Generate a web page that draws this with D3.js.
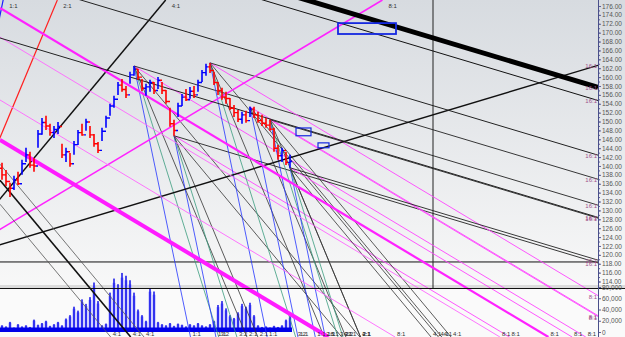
<!DOCTYPE html>
<html>
<head>
<meta charset="utf-8">
<script src="https://cdn.jsdelivr.net/npm/d3@7"></script>
<style>
body{margin:0;background:#fff}
svg{display:block;font-family:"Liberation Sans",Arial,sans-serif}
</style>
</head>
<body>
<div id="chart"></div>
<script>
// daily bars (price)
const highs = [140.7,139.1,136.2,137.8,138.7,141.4,144.1,143.2,141.8,148.1,
 150.8,151.3,149.5,149.0,149.9,145.0,144.1,142.9,145.6,148.1,
 149.5,150.6,149.0,147.2,145.4,148.6,151.3,154.0,155.8,158.9,
 159.6,158.0,161.2,162.5,161.8,159.6,158.5,159.4,158.9,160.0,
 158.9,157.1,153.1,150.4,154.2,156.2,157.3,157.8,158.0,159.4,
 161.6,163.0,163.2,161.2,158.9,157.6,156.7,155.3,153.7,152.6,
 152.2,152.4,153.3,153.3,152.2,151.5,150.8,150.4,148.6,144.7,
 144.1,143.2,142.5];
const lows = [136.9,135.5,133.0,134.6,135.7,138.0,140.9,139.6,138.7,144.1,
 147.0,148.1,146.8,146.3,147.2,141.8,140.9,139.8,142.5,144.7,
 146.8,147.9,146.3,144.3,142.9,145.6,148.6,151.3,153.1,156.0,
 156.7,155.3,158.5,160.3,159.4,156.9,155.8,156.7,156.2,157.3,
 156.2,154.0,148.8,146.8,151.0,153.5,154.6,155.1,155.3,156.7,
 158.9,160.3,160.9,158.2,156.0,154.9,154.0,152.6,151.0,149.9,
 149.5,149.7,151.0,150.8,149.7,149.0,148.6,147.9,143.2,141.4,
 140.9,140.2,139.6];
const closes = [138.0,136.5,135.0,136.9,136.0,140.5,142.5,140.2,140.0,147.2,
 149.8,149.0,147.5,148.2,148.9,142.5,143.2,140.5,144.8,147.5,
 147.0,149.9,147.0,145.0,143.5,147.8,150.8,153.5,155.0,158.2,
 157.2,156.0,160.5,161.8,160.0,157.5,157.8,158.8,157.0,159.3,
 157.0,154.5,149.5,148.0,153.5,155.5,154.9,156.8,156.0,158.8,
 161.0,162.3,161.5,158.8,157.0,155.5,155.2,153.0,152.0,150.5,
 151.5,150.2,152.8,151.5,150.2,149.6,149.2,148.3,144.0,142.3,
 143.5,140.8,141.0];
const firstOpen = 139.5;
// volume, thousands
const volumes = [12,10,18,8,14,10,12,9,22,13,
 16,20,11,14,18,12,24,30,45,38,
 58,50,62,88,55,12,15,70,95,85,
 105,100,92,70,40,30,20,78,72,18,
 14,12,16,11,15,13,10,14,12,16,
 12,10,14,20,48,55,42,30,25,35,
 50,45,52,30,12,9,10,8,11,9,
 12,22,28];

// gann fan settings
const unitSlope = 4.32; // price per bar for 1:1
const ratioNames = ["1:1","3:2","2:1","4:1","8:1","16:1"];
const ratioFactor = [1, 2/3, 1/2, 1/4, 1/8, 1/16];

// down fans from pivots
const fanBars = [33.5, 43.5, 52.5, 62.5, 67.5, 72.5];
const fanPrices = [162.5, 146.8, 163.2, 153.3, 150.4, 139.6];
const fanRatios = [
  ["1:1","3:2","2:1","4:1","8:1","16:1"],
  ["1:1","3:2","2:1","4:1","8:1","16:1"],
  ["1:1","3:2","2:1","4:1","8:1","16:1"],
  ["1:1","2:1","4:1","8:1"],
  ["1:1","3:2","2:1","4:1","8:1","16:1"],
  ["1:1","3:2","2:1","4:1","8:1","16:1"]
];

// up fan from low at the left
const upBar = -12.75, upPrice = 118.84;
const upRatios = ["1:1","2:1","4:1","8:1","16:1"];

// single down lines (anchored at bar 0)
const extraRatio = ["4:1","4:1","4:1","8:1","8:1","8:1","8:1","16:1","16:1","16:1","16:1"];
const extraPrice = [131.4,136.8,140.4,145.85,175.55,169.0,154.85,198.05,195.1,182.8,168.8];

// markers
const hLinePrice = 118.4;
const vLineBar = 108.25;
const boxBar0 = [84.5, 74, 79.5];
const boxBar1 = [99, 77.75, 82.25];
const boxTop = [172.15, 148.55, 145.2];
const boxBottom = [169.7, 146.8, 144.1];

const priceTicks = d3.range(114, 177, 2);
const volTicks = [0, 20, 40, 60, 80];

const W = 625, H = 337, plotRight = 598, priceBottom = 288;

const x = d3.scaleLinear().domain([0, 150]).range([0, 600]);
const y = d3.scaleLinear().domain([112, 176]).range([290.4, 6]);
const vy = d3.scaleLinear().domain([0, 80]).range([332, 287]);

const svg = d3.select("#chart").append("svg").attr("width", W).attr("height", H);
const defs = svg.append("defs");
const grad = defs.append("linearGradient").attr("id", "bg")
  .attr("x1", 0).attr("y1", 0).attr("x2", 0).attr("y2", 1);
grad.append("stop").attr("offset", "0%").attr("stop-color", "#d7dbe0");
grad.append("stop").attr("offset", "100%").attr("stop-color", "#f8f8f8");
defs.append("clipPath").attr("id", "clip").append("rect")
  .attr("x", 0).attr("y", 0).attr("width", plotRight).attr("height", H);

svg.append("rect").attr("width", W).attr("height", priceBottom).attr("fill", "url(#bg)");
svg.append("rect").attr("y", priceBottom).attr("width", W).attr("height", H - priceBottom).attr("fill", "#fafafa");
svg.append("rect").attr("y", priceBottom - 3).attr("width", W).attr("height", 3).attr("fill", "#dcdcdc");

const plot = svg.append("g").attr("clip-path", "url(#clip)");

// volume
const volG = plot.append("g");
volumes.forEach((v, i) => {
  const cx = x(i + 0.5);
  volG.append("rect").attr("x", cx - 1.5).attr("width", 3)
    .attr("y", vy(v * 0.92)).attr("height", vy(0) - vy(v * 0.92)).attr("fill", "#a8a8ff");
  volG.append("rect").attr("x", cx - 0.7).attr("width", 1.4)
    .attr("y", vy(v)).attr("height", vy(0) - vy(v)).attr("fill", "#0000e8");
});
volG.append("rect").attr("x", 0).attr("width", x(volumes.length))
  .attr("y", vy(8)).attr("height", vy(0) - vy(8)).attr("fill", "#0000e8");

// reference lines
plot.append("line").attr("x1", 0).attr("x2", plotRight)
  .attr("y1", y(hLinePrice)).attr("y2", y(hLinePrice)).attr("stroke", "#111").attr("stroke-width", 1);
plot.append("line").attr("x1", x(vLineBar)).attr("x2", x(vLineBar))
  .attr("y1", 0).attr("y2", priceBottom).attr("stroke", "#222").attr("stroke-width", 1);

const bRight = x.invert(plotRight), pBottom = y.invert(H), pTop = y.invert(0);
function ray(b0, p0, slope) {
  let b1 = bRight, p1 = p0 + slope * (b1 - b0), side = "right";
  if (p1 < pBottom) { b1 = b0 + (pBottom - p0) / slope; p1 = pBottom; side = "bottom"; }
  else if (p1 > pTop) { b1 = b0 + (pTop - p0) / slope; p1 = pTop; side = "top"; }
  return {b0, p0, b1, p1, side};
}

const rays = [];
const downStyle = {"1:1": ["#2233ff", 0.8], "3:2": ["#3a9c7e", 0.8], "2:1": ["#333", 0.8],
  "4:1": ["#333", 0.8], "8:1": ["#ff44ff", 0.9], "16:1": ["#222", 0.9]};
fanBars.forEach((b, i) => {
  fanRatios[i].forEach(r => {
    const f = ratioFactor[ratioNames.indexOf(r)];
    const s = downStyle[r];
    rays.push(Object.assign(ray(b, fanPrices[i], -unitSlope * f), {label: r, color: s[0], width: s[1]}));
  });
});
const upStyle = {"1:1": ["#1a1aff", 1.2], "2:1": ["#ff2020", 1.2], "4:1": ["#111", 1.5],
  "8:1": ["#ff22ff", 1.6], "16:1": ["#111", 1.4]};
upRatios.forEach(r => {
  const f = ratioFactor[ratioNames.indexOf(r)];
  const s = upStyle[r];
  rays.push(Object.assign(ray(upBar, upPrice, unitSlope * f), {label: r, color: s[0], width: s[1]}));
});
const extraStyle = [["#555", 0.8], ["#111", 1.6], ["#555", 0.8], ["#ff1cff", 4], ["#ff22ff", 2.2],
  ["#ff66ff", 0.9], ["#ff66ff", 0.9], ["#000", 5], ["#111", 1], ["#222", 1], ["#222", 1]];
extraRatio.forEach((r, i) => {
  const f = ratioFactor[ratioNames.indexOf(r)];
  rays.push(Object.assign(ray(0, extraPrice[i], -unitSlope * f),
    {label: r, color: extraStyle[i][0], width: extraStyle[i][1]}));
});

plot.append("g").selectAll("line").data(rays).join("line")
  .attr("x1", d => x(d.b0)).attr("y1", d => y(d.p0))
  .attr("x2", d => x(d.b1)).attr("y2", d => y(d.p1))
  .attr("stroke", d => d.color).attr("stroke-width", d => d.width);

// boxes
plot.append("g").selectAll("rect").data(boxBar0).join("rect")
  .attr("x", (d, i) => x(d)).attr("y", (d, i) => y(boxTop[i]))
  .attr("width", (d, i) => x(boxBar1[i]) - x(d))
  .attr("height", (d, i) => y(boxBottom[i]) - y(boxTop[i]))
  .attr("fill", "none").attr("stroke", "#1428e0").attr("stroke-width", (d, i) => i === 0 ? 1.8 : 1.2);

// price bars
const barG = plot.append("g");
closes.forEach((c, i) => {
  const o = i === 0 ? firstOpen : closes[i - 1];
  const col = c >= o ? "#0000ff" : "#ff0000";
  const cx = x(i + 0.5);
  barG.append("line").attr("x1", cx).attr("x2", cx).attr("y1", y(highs[i])).attr("y2", y(lows[i]))
    .attr("stroke", col).attr("stroke-width", 1.6);
  barG.append("line").attr("x1", cx - 2).attr("x2", cx).attr("y1", y(o)).attr("y2", y(o))
    .attr("stroke", col).attr("stroke-width", 1.4);
  barG.append("line").attr("x1", cx).attr("x2", cx + 2).attr("y1", y(c)).attr("y2", y(c))
    .attr("stroke", col).attr("stroke-width", 1.4);
});

// ratio labels
const labG = svg.append("g").style("font-size", "6px");
rays.forEach(d => {
  if (d.side === "bottom") {
    labG.append("text").attr("x", x(d.b1) + 2).attr("y", H - 1.5).attr("fill", "#333").text(d.label);
  } else if (d.side === "top") {
    labG.append("text").attr("x", x(d.b1) + 6).attr("y", 7.5).attr("fill", "#333").text(d.label);
  } else {
    labG.append("text").attr("x", plotRight - 1).attr("y", y(d.p1) + 3)
      .attr("text-anchor", "end").attr("fill", "#a0508a").text(d.label);
  }
});

// separator
svg.append("line").attr("x1", 0).attr("x2", W).attr("y1", priceBottom + 0.5).attr("y2", priceBottom + 0.5)
  .attr("stroke", "#111").attr("stroke-width", 1);

// right axes
const axG = svg.append("g").attr("transform", `translate(${plotRight},0)`);
axG.append("g").call(d3.axisRight(y).tickValues(d3.range(114, 177, 1)).tickSize(2).tickFormat(""))
  .call(g => g.select(".domain").remove())
  .call(g => g.selectAll("line").attr("stroke", "#5a5f9a"));
axG.append("g").call(d3.axisRight(y).tickValues(priceTicks).tickSize(3).tickFormat(d3.format(".2f")))
  .call(g => g.select(".domain").remove())
  .call(g => g.selectAll("line").attr("stroke", "#5a5f9a"))
  .call(g => g.selectAll("text").attr("x", 4).attr("fill", "#555").style("font-size", "6.5px"));
axG.append("g").call(d3.axisRight(vy).tickValues(volTicks).tickSize(3).tickFormat(d => d3.format(",")(d * 1000)))
  .call(g => g.select(".domain").remove())
  .call(g => g.selectAll("line").attr("stroke", "#5a5f9a"))
  .call(g => g.selectAll("text").attr("x", 4).attr("fill", "#555").style("font-size", "6.5px"));
axG.append("line").attr("x1", 0.5).attr("x2", 0.5).attr("y1", 0).attr("y2", H)
  .attr("stroke", "#4a4f8a").attr("stroke-width", 1);
</script>
</body>
</html>
